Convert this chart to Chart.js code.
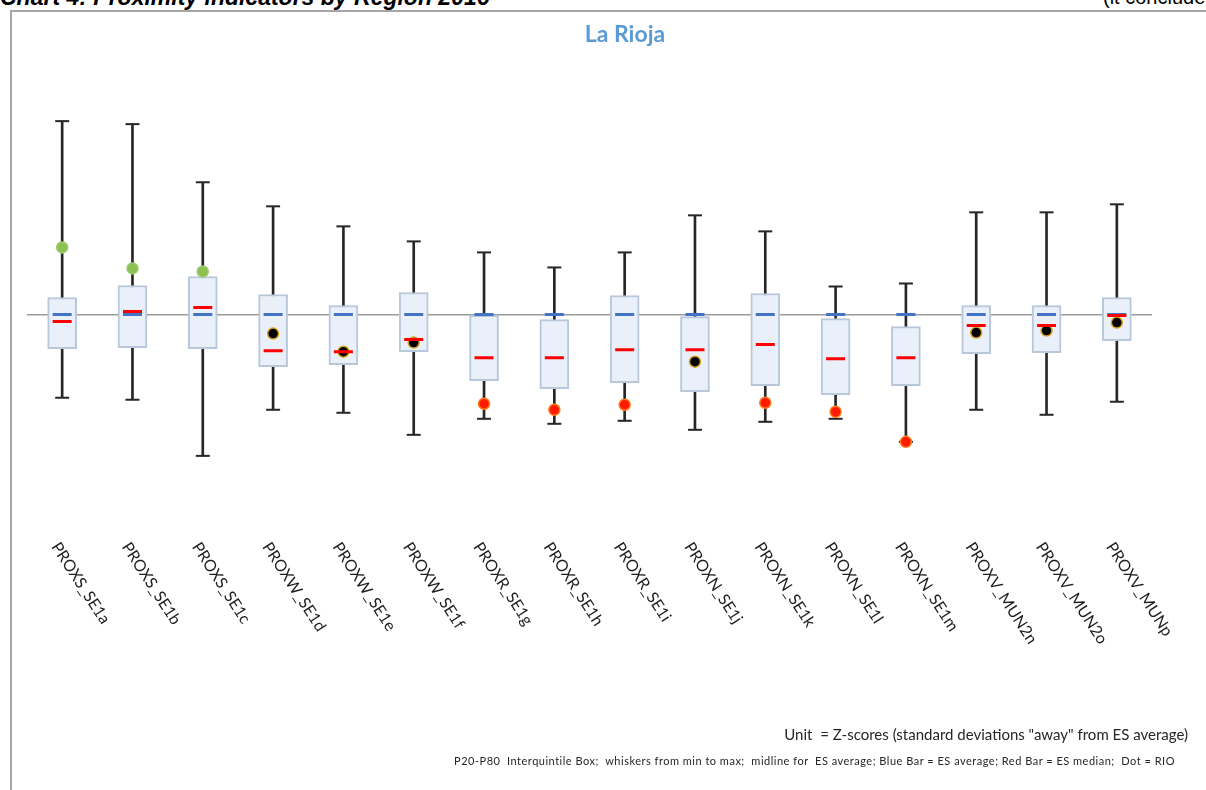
<!DOCTYPE html>
<html>
<head>
<meta charset="utf-8">
<script src="https://cdn.jsdelivr.net/npm/chart.js@4.4.0/dist/chart.umd.min.js"></script>
<style>
  html, body { margin: 0; padding: 0; width: 1206px; height: 790px; overflow: hidden; background: #fff; }
  #frame { position: absolute; left: 10px; top: 10px; width: 1300px; height: 900px; border: 2px solid #a6a6a6; box-sizing: border-box; }
  #chart { position: absolute; left: 0; top: 0; }
  .txt { position: absolute; white-space: pre; }
  #heading { left: 0; top: -14px; font: italic bold 23px/23px "Liberation Sans", Arial, sans-serif; color: #000; }
  #concl { left: 1103px; top: -14px; font: 20px/23px "Liberation Sans", Arial, sans-serif; color: #000; }
  #title { left: 425px; width: 400px; text-align: center; top: 19px; font: bold 23px/28px Lato, sans-serif; color: #5b9bd5; }
  #unit { right: 18px; top: 725px; font: 15px/18px Lato, sans-serif; color: #262626; }
  #legendNote { right: 31px; top: 754px; font: 11px/14px Lato, sans-serif; letter-spacing: 0.5px; color: #262626; }
</style>
</head>
<body>
<div id="frame"></div>
<div class="txt" id="heading">Chart 4: Proximity indicators by Region 2016</div>
<div class="txt" id="concl">(it concludes)</div>
<canvas id="chart" width="1206" height="790"></canvas>
<div class="txt" id="title">La Rioja</div>
<div class="txt" id="unit">Unit  = Z-scores (standard deviations "away" from ES average)</div>
<div class="txt" id="legendNote">P20-P80  Interquintile Box;  whiskers from min to max;  midline for  ES average; Blue Bar = ES average; Red Bar = ES median;  Dot = RIO</div>
<script>
// Proximity indicators, La Rioja vs. Spain (z-scores)
const categories = [
  'PROXS_SE1a', 'PROXS_SE1b', 'PROXS_SE1c', 'PROXW_SE1d', 'PROXW_SE1e', 'PROXW_SE1f',
  'PROXR_SE1g', 'PROXR_SE1h', 'PROXR_SE1i', 'PROXN_SE1j', 'PROXN_SE1k', 'PROXN_SE1l',
  'PROXN_SE1m', 'PROXV_MUN2n', 'PROXV_MUN2o', 'PROXV_MUNp'
];
const esMax    = [1.93, 1.90, 1.32, 1.08, 0.88, 0.73, 0.62, 0.47, 0.62, 0.99, 0.83, 0.28, 0.31, 1.02, 1.02, 1.10];
const esMin    = [-0.83, -0.85, -1.41, -0.95, -0.98, -1.20, -1.04, -1.09, -1.06, -1.15, -1.07, -1.04, -1.27, -0.95, -1.00, -0.87];
const esP80    = [0.17, 0.29, 0.38, 0.20, 0.09, 0.22, 0.00, -0.05, 0.19, -0.02, 0.21, -0.04, -0.12, 0.09, 0.09, 0.17];
const esP20    = [-0.34, -0.33, -0.34, -0.52, -0.50, -0.37, -0.66, -0.74, -0.68, -0.77, -0.71, -0.80, -0.71, -0.39, -0.38, -0.26];
const esAverage = [0, 0, 0, 0, 0, 0, 0, 0, 0, 0, 0, 0, 0, 0, 0, 0];
const esMedian = [-0.07, 0.03, 0.07, -0.36, -0.37, -0.25, -0.43, -0.43, -0.35, -0.35, -0.30, -0.44, -0.43, -0.11, -0.11, -0.01];
const rioValue = [0.67, 0.46, 0.43, -0.19, -0.37, -0.28, -0.89, -0.95, -0.90, -0.47, -0.88, -0.97, -1.27, -0.18, -0.16, -0.08];

// Dot colour: green above the interquintile box, red below it, black inside
const dotFill = rioValue.map((v, i) => v > esP80[i] ? '#8cc152' : (v < esP20[i] ? '#ff1a00' : '#000000'));
const dotEdge = rioValue.map((v, i) => v > esP80[i] ? '#9fcb6e' : (v < esP20[i] ? '#ff7a1a' : '#d9a21b'));

const slantedLabels = {
  id: 'slantedLabels',
  afterDraw(chart) {
    const { ctx, scales: { x } } = chart;
    ctx.save();
    ctx.font = '16px Lato, sans-serif';
    ctx.fillStyle = '#1e1e1e';
    ctx.textAlign = 'left';
    ctx.textBaseline = 'middle';
    categories.forEach((name, i) => {
      ctx.save();
      ctx.translate(x.getPixelForValue(i) - 7, 544);
      ctx.rotate(57 * Math.PI / 180);
      ctx.fillText(name, 0, 0);
      ctx.restore();
    });
    ctx.restore();
  }
};

const capStyle = { type: 'line', showLine: false, pointStyle: 'line', pointRadius: 7, pointBorderWidth: 2, borderWidth: 2, borderColor: '#262626', pointBorderColor: '#262626', order: 6 };
const barMark = { type: 'line', showLine: false, pointStyle: 'line', pointRadius: 9.5, pointBorderWidth: 3, borderWidth: 3 };

new Chart(document.getElementById('chart'), {
  type: 'bar',
  data: {
    labels: categories,
    datasets: [
      { label: 'Range', data: categories.map((c, i) => [esMin[i], esMax[i]]), barThickness: 2, backgroundColor: '#262626', grouped: false, order: 7 },
      Object.assign({ label: 'Max', data: esMax }, capStyle),
      Object.assign({ label: 'Min', data: esMin }, capStyle),
      { label: 'P20-P80', data: categories.map((c, i) => [esP20[i], esP80[i]]), barThickness: 29, backgroundColor: '#e9f0f9', borderColor: '#b8c7da', borderWidth: 2, borderSkipped: false, grouped: false, order: 5 },
      { label: 'RIO', type: 'line', data: rioValue, showLine: false, pointStyle: 'circle', pointRadius: 5.5, pointBackgroundColor: dotFill, pointBorderColor: dotEdge, pointBorderWidth: 1.5, order: 4 },
      Object.assign({ label: 'ES average', data: esAverage, borderColor: '#4472c4', pointBorderColor: '#4472c4', order: 3 }, barMark),
      Object.assign({ label: 'ES median', data: esMedian, borderColor: '#ff0000', pointBorderColor: '#ff0000', order: 2 }, barMark)
    ]
  },
  options: {
    responsive: false,
    devicePixelRatio: 1,
    animation: false,
    events: [],
    layout: { padding: { left: 27, right: 54, top: 64, bottom: 267 } },
    plugins: { legend: { display: false }, tooltip: { enabled: false }, title: { display: false } },
    scales: {
      x: { type: 'category', offset: true, grid: { display: false }, border: { display: false }, ticks: { display: false } },
      y: {
        min: -2, max: 2.5,
        ticks: { display: false },
        border: { display: false },
        grid: { drawTicks: false, lineWidth: 1.5, color: ctx => ctx.tick && ctx.tick.value === 0 ? '#9a9a9a' : 'rgba(0,0,0,0)' }
      }
    }
  },
  plugins: [slantedLabels]
});
</script>
</body>
</html>
